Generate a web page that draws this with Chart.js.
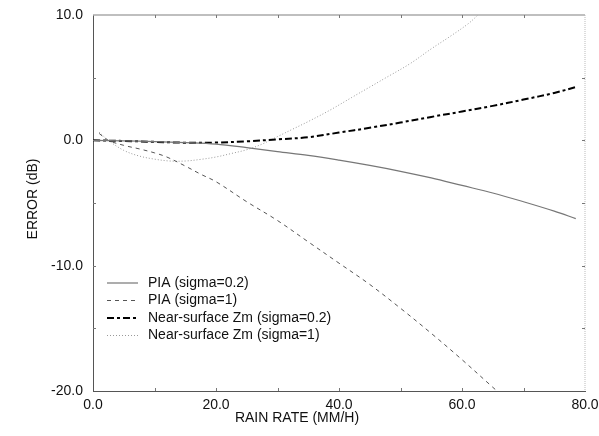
<!DOCTYPE html>
<html lang="en">
<head>
    <meta charset="UTF-8">
    <title>Error vs Rain Rate</title>
    <script src="https://cdn.jsdelivr.net/npm/chart.js"></script>
    <style>
        html, body { margin: 0; padding: 0; background: white; }
        .wrap { width: 599px; height: 436px; }
    </style>
</head>
<body>
    <div class="wrap"><canvas id="errChart" width="599" height="436"></canvas></div>

    <script>
        // rain rate (mm/h) and error (dB)
        const rainA = [0, 5, 10, 15, 20, 25, 30, 35, 40, 45, 50, 55, 60, 65, 70, 75, 78.5];
        const piaSigma02 = [0, -0.04, -0.1, -0.18, -0.3, -0.58, -0.9, -1.2, -1.58, -2.0, -2.47, -3.0, -3.6, -4.2, -4.9, -5.65, -6.25];
        const zmSigma02 = [0, -0.05, -0.12, -0.19, -0.18, -0.08, 0.08, 0.25, 0.62, 1.0, 1.42, 1.87, 2.3, 2.75, 3.25, 3.78, 4.25];

        const rainPia1 = [1, 2.5, 5, 7.5, 10, 12, 15, 17.5, 20, 25, 30, 35, 40, 45, 50, 55, 60, 65, 65.7];
        const piaSigma1 = [0.55, 0.0, -0.4, -0.68, -1.0, -1.33, -2.05, -2.7, -3.3, -4.9, -6.4, -8.1, -9.8, -11.5, -13.4, -15.4, -17.5, -19.7, -20];

        const rainZm1 = [1, 2.5, 5, 7.5, 10, 12.5, 15, 17.5, 20, 22.5, 25, 27.5, 30, 32.5, 35, 38.5, 42, 45, 48, 51.5, 55, 58, 61, 62.6];
        const zmSigma1 = [0.65, 0.0, -0.8, -1.25, -1.5, -1.65, -1.65, -1.52, -1.33, -1.05, -0.75, -0.3, 0.3, 0.9, 1.5, 2.4, 3.4, 4.25, 5.1, 6.1, 7.3, 8.27, 9.3, 10];

        const seriesNames = ['PIA (sigma=0.2)', 'PIA (sigma=1)', 'Near-surface Zm (sigma=0.2)', 'Near-surface Zm (sigma=1)'];
        const xTicks = [0, 20, 40, 60, 80];
        const yTicks = [-20, -10, 0, 10];

        const FONT = '"Liberation Sans", Arial, Helvetica, sans-serif';

        function pts(xs, ys) {
            return xs.map((x, i) => ({ x: x, y: ys[i] }));
        }

        // frame, inward ticks, axis titles and legend
        const decor = {
            id: 'decor',
            afterDraw(chart) {
                const ctx = chart.ctx;
                const a = chart.chartArea;
                const xs = chart.scales.x, ys = chart.scales.y;
                ctx.save();

                // top and right edges (light, as in the figure)
                ctx.strokeStyle = '#aaa';
                ctx.lineWidth = 1.5;
                ctx.beginPath();
                ctx.moveTo(a.left, a.top); ctx.lineTo(a.right, a.top);
                ctx.stroke();
                ctx.setLineDash([1, 1]);
                ctx.lineWidth = 1;
                ctx.strokeStyle = '#bbb';
                ctx.beginPath();
                ctx.moveTo(a.right, a.top); ctx.lineTo(a.right, a.bottom);
                ctx.stroke();
                ctx.setLineDash([]);

                // small inward ticks
                ctx.strokeStyle = '#777';
                ctx.lineWidth = 1;
                ctx.beginPath();
                for (let v = 10; v < 80; v += 10) {
                    const px = Math.round(xs.getPixelForValue(v)) + 0.5;
                    ctx.moveTo(px, a.bottom); ctx.lineTo(px, a.bottom - 3);
                    ctx.moveTo(px, a.top); ctx.lineTo(px, a.top + 3);
                }
                for (let v = -15; v < 10; v += 5) {
                    const py = Math.round(ys.getPixelForValue(v)) + 0.5;
                    ctx.moveTo(a.left, py); ctx.lineTo(a.left + 3, py);
                    ctx.moveTo(a.right, py); ctx.lineTo(a.right - 3, py);
                }
                ctx.stroke();

                // axis titles
                ctx.fillStyle = '#111';
                ctx.font = '14px ' + FONT;
                ctx.textAlign = 'center';
                ctx.textBaseline = 'middle';
                ctx.fillText('RAIN RATE (MM/H)', 297, 418);
                ctx.save();
                ctx.translate(33, 199);
                ctx.rotate(-Math.PI / 2);
                ctx.fillText('ERROR (dB)', 0, 0);
                ctx.restore();

                // legend
                ctx.textAlign = 'left';
                chart.data.datasets.forEach((ds, i) => {
                    const y = 283 + i * 17.5;
                    ctx.strokeStyle = ds.borderColor;
                    ctx.lineWidth = ds.borderWidth;
                    ctx.setLineDash(ds.borderDash || []);
                    ctx.beginPath();
                    ctx.moveTo(107, y); ctx.lineTo(138, y);
                    ctx.stroke();
                    ctx.setLineDash([]);
                    ctx.fillStyle = '#111';
                    ctx.fillText(ds.label, 148, y);
                });
                ctx.restore();
            }
        };

        new Chart(document.getElementById('errChart'), {
            type: 'line',
            data: {
                datasets: [
                    {
                        label: seriesNames[0],
                        data: pts(rainA, piaSigma02),
                        borderColor: '#777',
                        borderWidth: 1.2,
                        borderDash: []
                    },
                    {
                        label: seriesNames[1],
                        data: pts(rainPia1, piaSigma1),
                        borderColor: '#555',
                        borderWidth: 1,
                        borderDash: [4, 4]
                    },
                    {
                        label: seriesNames[2],
                        data: pts(rainA, zmSigma02),
                        borderColor: '#000',
                        borderWidth: 2,
                        borderDash: [7, 3, 3, 3]
                    },
                    {
                        label: seriesNames[3],
                        data: pts(rainZm1, zmSigma1),
                        borderColor: '#999',
                        borderWidth: 1,
                        borderDash: [1, 2]
                    }
                ]
            },
            options: {
                responsive: false,
                animation: false,
                events: [],
                layout: { padding: { top: 15, right: 14, left: 0, bottom: 0 } },
                elements: {
                    point: { radius: 0 },
                    line: { tension: 0.35, fill: false }
                },
                plugins: {
                    legend: { display: false },
                    tooltip: { enabled: false }
                },
                scales: {
                    x: {
                        type: 'linear',
                        min: 0,
                        max: 80,
                        afterBuildTicks: s => { s.ticks = xTicks.map(v => ({ value: v })); },
                        afterFit: s => { s.height = 45; s.paddingLeft = 0; s.paddingRight = 0; },
                        grid: { display: false, drawTicks: false },
                        border: { display: true, color: '#555', width: 1 },
                        ticks: {
                            padding: 6,
                            color: '#111',
                            maxRotation: 0,
                            font: { family: FONT, size: 14 },
                            callback: v => Number(v).toFixed(1)
                        }
                    },
                    y: {
                        type: 'linear',
                        min: -20,
                        max: 10,
                        afterBuildTicks: s => { s.ticks = yTicks.map(v => ({ value: v })); },
                        afterFit: s => { s.width = 93; s.paddingTop = 0; s.paddingBottom = 0; },
                        grid: { display: false, drawTicks: false },
                        border: { display: true, color: '#555', width: 1 },
                        ticks: {
                            padding: 10,
                            color: '#111',
                            font: { family: FONT, size: 14 },
                            callback: v => Number(v).toFixed(1)
                        }
                    }
                }
            },
            plugins: [decor]
        });
    </script>
</body>
</html>
